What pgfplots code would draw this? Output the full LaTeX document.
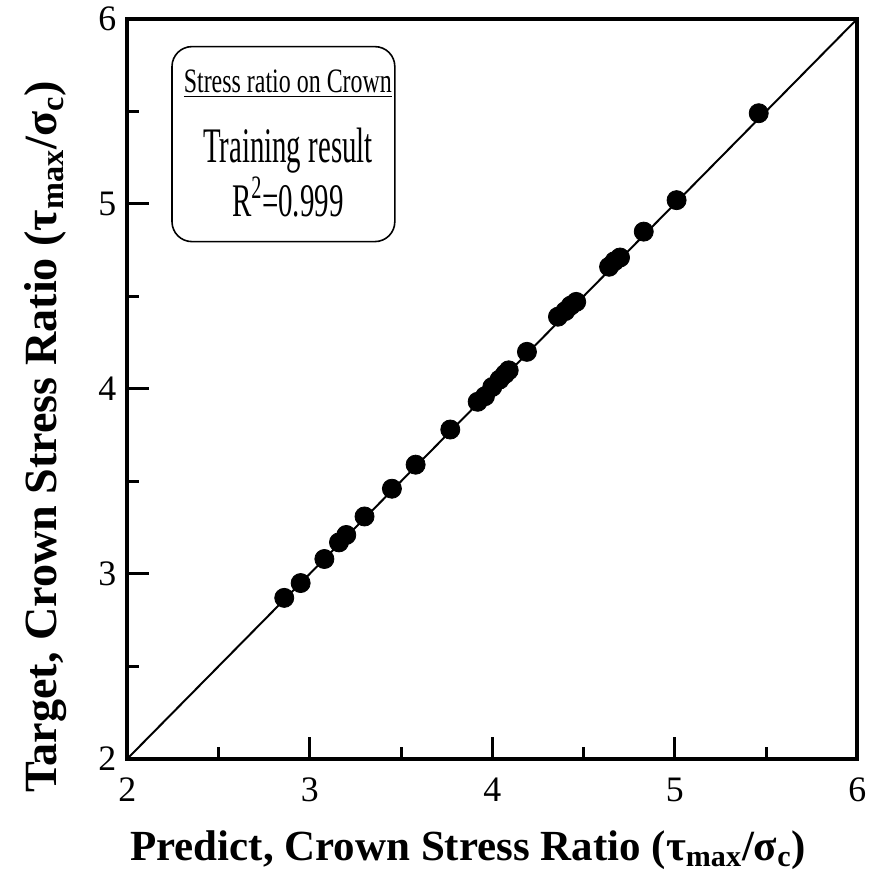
\documentclass[border=0pt]{standalone}
\usepackage{fontspec}
\setmainfont{Liberation Serif}
\usepackage{graphicx}
\usepackage{pgfplots}
\pgfplotsset{compat=1.18}
\begin{document}
\begin{tikzpicture}
\begin{axis}[
  scale only axis, width=367pt, height=372pt,
  xmin=2, xmax=6, ymin=2, ymax=6,
  xtick={2,3,4,5,6}, ytick={2,3,4,5,6},
  minor tick num=1,
  xtick pos=bottom, ytick pos=left,
  tick align=inside,
  major tick length=11pt, minor tick length=6pt,
  every tick/.style={black, line width=1.5pt},
  axis line style={line width=2pt},
  /pgf/number format/assume math mode=true,
  tick label style={font=\fontsize{18}{18}\selectfont},
  xticklabel style={yshift=-6pt},
  yticklabel style={xshift=-2pt},
  xlabel style={font=\bfseries\fontsize{21.6}{21.6}\selectfont, at={(axis description cs:0.467,0)}, anchor=base, yshift=-51pt},
  ylabel style={font=\bfseries\fontsize{23.2}{23.2}\selectfont, at={(axis description cs:-0.112,0.435)}, anchor=center},
  xlabel={Predict, Crown Stress Ratio (τ\textsubscript{max}/σ\textsubscript{c})},
  ylabel={Target, Crown Stress Ratio (τ\textsubscript{max}/σ\textsubscript{c})},
  clip=false,
]
\addplot[black, line width=1pt, no marks] coordinates {(2,2) (6,6)};
\addplot[only marks, mark=*, mark size=4.8pt, black] coordinates {
(2.86,2.87) (2.95,2.95) (3.08,3.08) (3.16,3.17) (3.20,3.21) (3.30,3.31)
(3.45,3.46) (3.58,3.59) (3.77,3.78) (3.92,3.93) (3.96,3.96) (4.00,4.01)
(4.04,4.05) (4.07,4.08) (4.09,4.10) (4.19,4.20) (4.36,4.39) (4.40,4.42)
(4.43,4.45) (4.46,4.47) (4.64,4.66) (4.67,4.69) (4.70,4.71) (4.83,4.85)
(5.01,5.02) (5.46,5.49)
};
\draw[rounded corners=10pt, line width=0.8pt] (axis cs:2.245,4.796) rectangle (axis cs:3.466,5.85);
\node[anchor=base] at (axis cs:2.88,5.60) {\scalebox{0.7}[1]{\fontsize{17.2}{18}\selectfont\underline{Stress ratio on Crown}}};
\node[anchor=base] at (axis cs:2.88,5.226) {\scalebox{0.58}[1]{\fontsize{25}{25}\selectfont Training result}};
\node[anchor=base] at (axis cs:2.88,4.93) {\scalebox{0.62}[1]{\fontsize{23.5}{23.5}\selectfont R\textsuperscript{2}=0.999}};
\path (rel axis cs:0,0) ++(-64pt,-55.5pt);
\path (rel axis cs:1,1) ++(7pt,9.5pt);
\end{axis}
\end{tikzpicture}
\end{document}
